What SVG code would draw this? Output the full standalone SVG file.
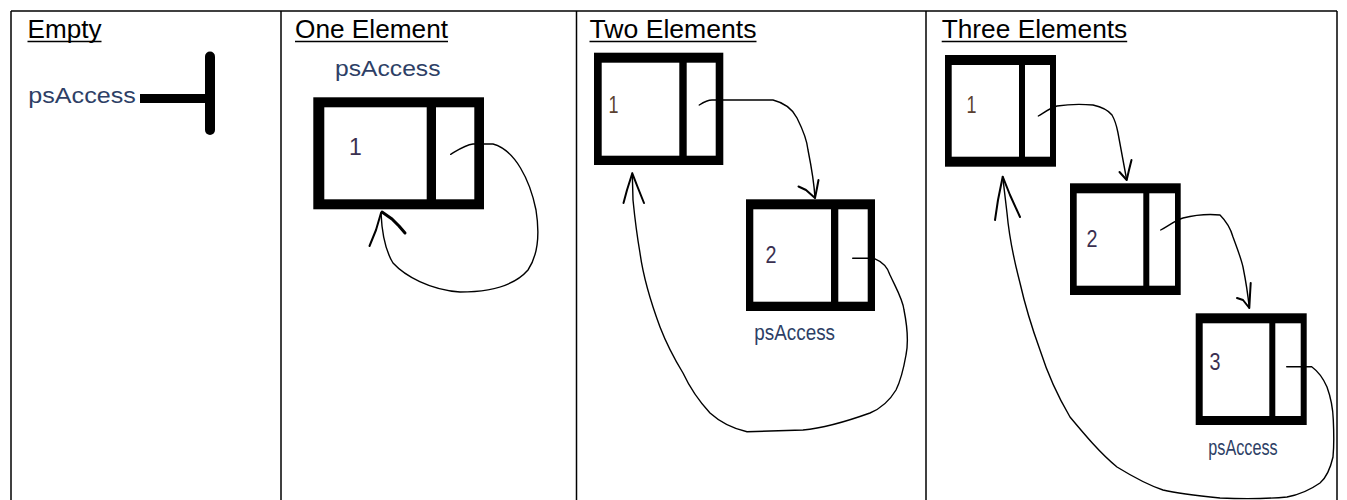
<svg xmlns="http://www.w3.org/2000/svg" width="1347" height="500" viewBox="0 0 1347 500">
<style>
  .grid { stroke: #000; stroke-width: 1.5; fill: none; }
  .hdr { font-family: "Liberation Sans", Arial, sans-serif; font-size: 25px; fill: #000; }
  .ul { stroke: #000; stroke-width: 1.5; }
  .ptr { font-family: "Liberation Sans", Arial, sans-serif; font-size: 22px; fill: #2e3f66; }
  .ptr2 { font-family: "Liberation Sans", Arial, sans-serif; font-size: 22px; fill: #2e3f66; }
  .num { font-family: "Liberation Sans", Arial, sans-serif; font-size: 23px; fill: #3a3050; }
  .frame { fill: #000; }
  .cell { fill: #fff; }
  .link { stroke: #000; stroke-width: 1.4; fill: none; stroke-linecap: round; stroke-linejoin: round; }
  .head { stroke: #000; stroke-width: 2; fill: none; stroke-linecap: round; stroke-linejoin: round; }
</style>
<rect width="1347" height="500" fill="#fff"/>
<g id="table">
  <line class="grid" x1="11" y1="11" x2="1337" y2="11"/>
  <line class="grid" x1="11" y1="11" x2="11" y2="500"/>
  <line class="grid" x1="281" y1="11" x2="281" y2="500"/>
  <line class="grid" x1="576.5" y1="11" x2="576.5" y2="500"/>
  <line class="grid" x1="926" y1="11" x2="926" y2="500"/>
  <line class="grid" x1="1337" y1="11" x2="1337" y2="500"/>
</g>
<g id="headers">
  <text class="hdr" x="27.5" y="37.5" textLength="74" lengthAdjust="spacingAndGlyphs">Empty</text>
  <line class="ul" x1="27.5" y1="41.5" x2="101.5" y2="41.5"/>
  <text class="hdr" x="295" y="37.5" textLength="153" lengthAdjust="spacingAndGlyphs">One Element</text>
  <line class="ul" x1="295" y1="41.5" x2="448" y2="41.5"/>
  <text class="hdr" x="589.5" y="37.5" textLength="167" lengthAdjust="spacingAndGlyphs">Two Elements</text>
  <line class="ul" x1="589.5" y1="41.5" x2="756.5" y2="41.5"/>
  <text class="hdr" x="941.7" y="37.5" textLength="185.5" lengthAdjust="spacingAndGlyphs">Three Elements</text>
  <line class="ul" x1="941.7" y1="41.5" x2="1127.2" y2="41.5"/>
</g>
<g id="empty-null">
  <text class="ptr" x="28.3" y="103" textLength="107.5" lengthAdjust="spacingAndGlyphs">psAccess</text>
  <line x1="140" y1="98.5" x2="209" y2="98.5" stroke="#000" stroke-width="9"/>
  <line x1="210" y1="56.5" x2="210" y2="130" stroke="#000" stroke-width="10" stroke-linecap="round"/>
</g>
<g id="one-node1">
  <text class="ptr" x="335" y="75.5" textLength="105.5" lengthAdjust="spacingAndGlyphs">psAccess</text>
  <rect class="frame" x="313.3" y="97.3" width="170.7" height="112"/>
  <rect class="cell" x="324.3" y="107.3" width="102.4" height="92"/>
  <rect class="cell" x="436" y="107.3" width="38.3" height="92"/>
  <text class="num" x="349" y="155">1</text>
</g>
<g id="two-node1">
  <rect class="frame" x="594" y="52.7" width="129.3" height="112.3"/>
  <rect class="cell" x="601.7" y="62.7" width="77.6" height="93"/>
  <rect class="cell" x="686.7" y="62.7" width="29" height="93"/>
  <text class="num" x="608.5" y="113.3" style="fill:#5a4030" textLength="10" lengthAdjust="spacingAndGlyphs">1</text>
</g>
<g id="two-node2">
  <rect class="frame" x="746" y="199.3" width="129" height="111.7"/>
  <rect class="cell" x="753.3" y="209.3" width="77.7" height="92.4"/>
  <rect class="cell" x="838.3" y="209.3" width="29.4" height="92.4"/>
  <text class="num" x="765.5" y="263.3" textLength="11" lengthAdjust="spacingAndGlyphs">2</text>
  <text class="ptr2" x="754.3" y="340" textLength="80.7" lengthAdjust="spacingAndGlyphs">psAccess</text>
</g>
<g id="three-node1">
  <rect class="frame" x="945" y="55" width="111" height="111.7"/>
  <rect class="cell" x="951.7" y="65" width="67.3" height="91.7"/>
  <rect class="cell" x="1025" y="65" width="25" height="91.7"/>
  <text class="num" x="966.5" y="113.3" style="fill:#5a4030" textLength="10" lengthAdjust="spacingAndGlyphs">1</text>
</g>
<g id="three-node2">
  <rect class="frame" x="1070" y="183.3" width="110.7" height="111.7"/>
  <rect class="cell" x="1076.7" y="193.3" width="66.6" height="92.4"/>
  <rect class="cell" x="1149.3" y="193.3" width="25.7" height="92.4"/>
  <text class="num" x="1086.5" y="246.7" textLength="11" lengthAdjust="spacingAndGlyphs">2</text>
</g>
<g id="three-node3">
  <rect class="frame" x="1195.7" y="313.3" width="111" height="111.7"/>
  <rect class="cell" x="1202.7" y="323.3" width="66.6" height="92.7"/>
  <rect class="cell" x="1275.3" y="323.3" width="25.4" height="92.7"/>
  <text class="num" x="1209.5" y="370" textLength="11" lengthAdjust="spacingAndGlyphs">3</text>
  <text class="ptr2" x="1208.3" y="455" textLength="69.4" lengthAdjust="spacingAndGlyphs">psAccess</text>
</g>
<g id="connectors">
  <path class="link" d="M450.7,154.3 C458,150 465,145 473,144 L493,144 C515,150 530,180 536,210 C540,235 538,255 528,270 C515,285 490,292 460,292 C430,290 405,276 393,263 C385,250 382,235 381,213"/>
  <path class="head" d="M381,213 L376,230 L369.5,246"/>
  <path class="head" style="stroke-width:3" d="M382,212 L392,219 L399,226 L405,233"/>
  <path class="link" d="M699.3,105 C704,102 708,100 712,100 L773,100 C785,103 793,110 797,118 C803,130 807,140 808,150 C811,165 814,180 815,198"/>
  <path class="head" d="M815,198 L806,190 L798.5,186.5 M815,198 L817,188 L818.5,180"/>
  <path class="link" d="M852.7,258.3 L874,258.3 C883,262 888,268 890,275 C897,290 903,300 904,310 C908,330 908,345 906,355 C903,372 900,382 896,390 C890,400 882,408 870,413 C845,422 825,428 803,430 L747,431.7 C730,428 720,422 710,413 C698,400 690,388 683,373 C672,355 665,340 660,327 C650,300 643,275 640,253 C636,230 634,210 633,200 L632.3,173.3"/>
  <path class="head" d="M632.3,173.3 L627,190 L623.5,203 M632.3,173.3 L638,188 L644,203"/>
  <path class="link" d="M1038.3,116 C1045,112 1050,108 1057,106 C1070,104 1082,104 1093,105 C1102,107 1108,110 1112,115 C1116,122 1117,128 1118,133 C1121,150 1124,165 1126.7,180"/>
  <path class="head" d="M1126.7,180 L1119.5,172 M1126.7,180 L1129,170 L1131.5,160"/>
  <path class="link" d="M1160.7,230 C1168,226 1176,220 1183,218 C1195,215 1210,214 1220,215 C1227,222 1231,230 1233,237 C1237,248 1241,258 1243,267 C1246,282 1248,295 1249.3,308"/>
  <path class="head" d="M1249.3,308 L1243,300 L1237,298 M1249.3,308 L1250,295 L1250.7,283"/>
  <path class="link" d="M1286.7,366.7 L1311.7,366.7 C1319,372 1324,380 1327,387 C1331,398 1333,410 1333.3,420 C1334,435 1334,447 1333,457 C1330,470 1326,478 1320,483 C1310,490 1298,495 1287,497 C1265,499 1242,499 1220,498 C1200,496 1180,494 1163,490 C1145,484 1130,475 1117,467 C1100,453 1085,435 1070,417 C1060,400 1048,375 1040,350 C1032,328 1025,305 1020,283 C1014,260 1009,235 1007,213 L1002.7,176.7"/>
  <path class="head" d="M1002.7,176.7 L998,200 L995,220 M1002.7,176.7 L1010,195 L1020,217"/>
</g>
</svg>
